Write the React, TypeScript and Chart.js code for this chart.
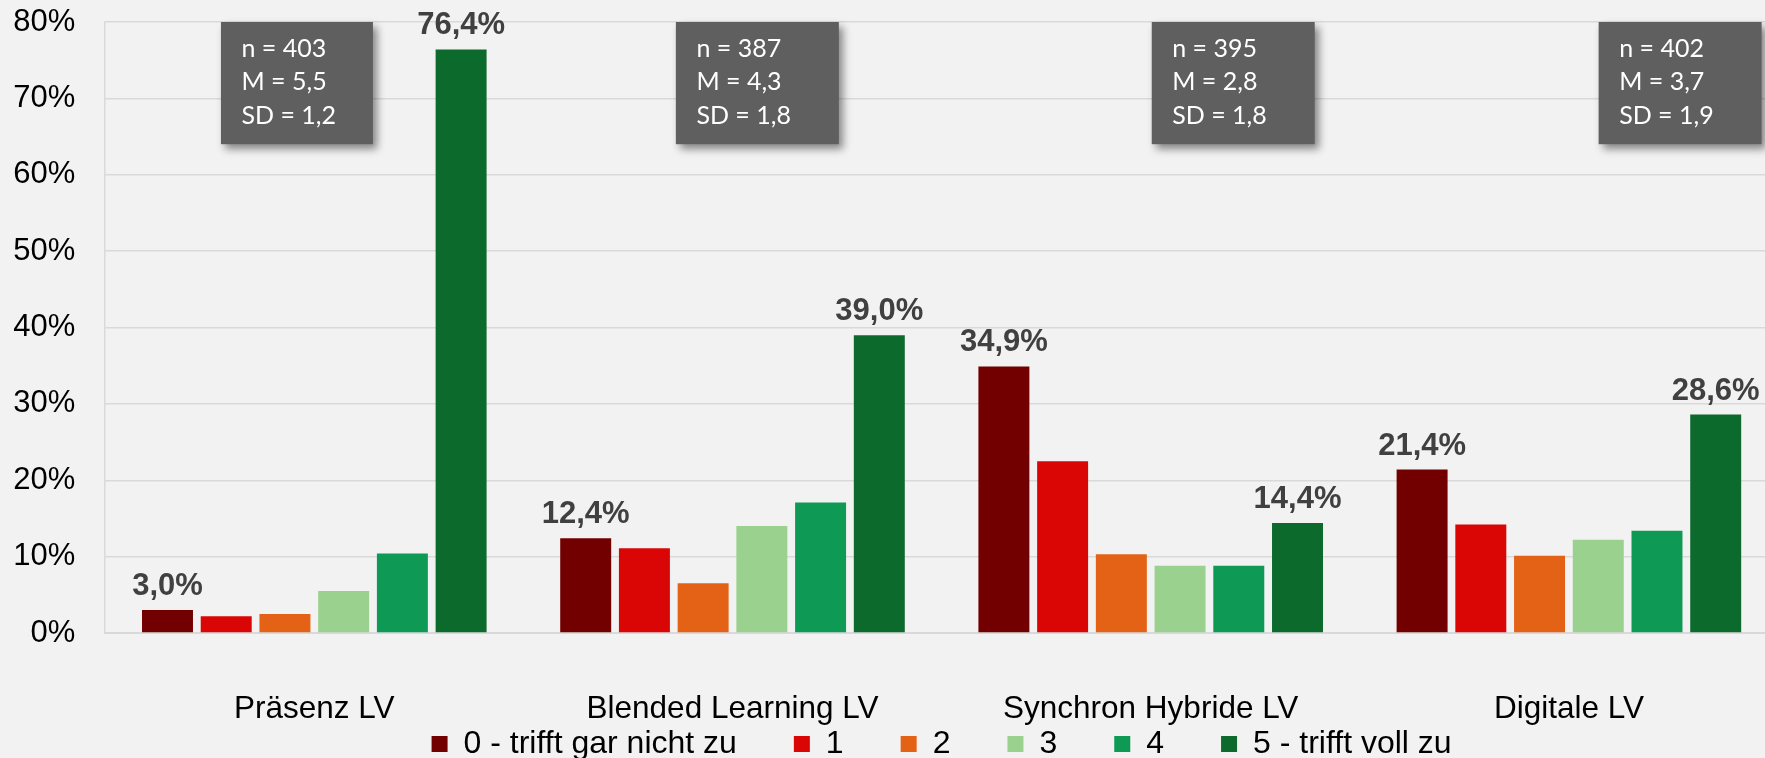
import React, { useEffect, useRef } from 'react';
import { Chart, registerables } from 'chart.js';

Chart.register(...registerables);

// ---- Data ----
const categories = ['Präsenz LV', 'Blended Learning LV', 'Synchron Hybride LV', 'Digitale LV'];
const seriesNames = ['0 - trifft gar nicht zu', '1', '2', '3', '4', '5 - trifft voll zu'];
const series0 = [3.0, 12.4, 34.9, 21.4];
const series1 = [2.2, 11.1, 22.5, 14.2];
const series2 = [2.5, 6.5, 10.3, 10.1];
const series3 = [5.5, 14.0, 8.8, 12.2];
const series4 = [10.4, 17.1, 8.8, 13.4];
const series5 = [76.4, 39.0, 14.4, 28.6];
const labeledSeries = [0, 5];
const statN = [403, 387, 395, 402];
const statM = [5.5, 4.3, 2.8, 3.7];
const statSD = [1.2, 1.8, 1.8, 1.9];
const yMin = 0;
const yMax = 80;
const yStep = 10;

// ---- Styles / layout ----
const FONT = '"Liberation Sans", Arial, sans-serif';
const seriesColors = ['#730000', '#da0606', '#e36216', '#9ad18e', '#0e9a55', '#0c6a2c'];
const boxLayout = [
  { offset: -0.2232, width: 0.3634 },
  { offset: -0.1354, width: 0.3897 },
  { offset: 0.0025, width: 0.3897 },
  { offset: 0.0711, width: 0.3897 },
];
const boxTopValue = 80;
const boxBottomValue = 64;
const legendOffsetBelowAxis = 38;

const fmt = (v: number) => v.toFixed(1).replace('.', ',');

const barLabelPlugin = {
  id: 'barLabels',
  afterDatasetsDraw(chart: any) {
    const ctx = chart.ctx;
    ctx.save();
    ctx.font = `bold 31px ${FONT}`;
    ctx.fillStyle = '#404040';
    ctx.textAlign = 'center';
    ctx.textBaseline = 'alphabetic';
    labeledSeries.forEach((dsIndex) => {
      const meta = chart.getDatasetMeta(dsIndex);
      const values = chart.data.datasets[dsIndex].data as number[];
      meta.data.forEach((bar: any, i: number) => {
        ctx.fillText(fmt(values[i]) + '%', bar.x, bar.y - 15);
      });
    });
    ctx.restore();
  },
};

const statBoxPlugin = {
  id: 'statBoxes',
  afterDatasetsDraw(chart: any) {
    const ctx = chart.ctx;
    const xs = chart.scales.x;
    const ys = chart.scales.y;
    const top = ys.getPixelForValue(boxTopValue);
    const bottom = ys.getPixelForValue(boxBottomValue);
    categories.forEach((_, i) => {
      const lay = boxLayout[i];
      const left = xs.getPixelForValue(i + lay.offset);
      const right = xs.getPixelForValue(i + lay.offset + lay.width);
      ctx.save();
      ctx.shadowColor = 'rgba(0,0,0,0.45)';
      ctx.shadowBlur = 8;
      ctx.shadowOffsetX = 4;
      ctx.shadowOffsetY = 5;
      ctx.fillStyle = '#5f5f5f';
      ctx.fillRect(left, top, right - left, bottom - top);
      ctx.restore();
      ctx.save();
      ctx.fillStyle = '#ffffff';
      ctx.font = '25px Lato, "Open Sans", sans-serif';
      ctx.textAlign = 'left';
      ctx.textBaseline = 'middle';
      const lines = [`n = ${statN[i]}`, `M = ${fmt(statM[i])}`, `SD = ${fmt(statSD[i])}`];
      lines.forEach((t, k) => {
        ctx.fillText(t, left + 20.5, top + 27 + k * 33.3);
      });
      ctx.restore();
    });
  },
};

// moves the legend up, close under the category labels
const legendShiftPlugin = {
  id: 'legendShift',
  afterLayout(chart: any) {
    const lg = chart.legend;
    if (!lg) return;
    const target = chart.chartArea.bottom + legendOffsetBelowAxis;
    const dy = lg.top - target;
    lg.top -= dy;
    lg.bottom -= dy;
  },
};

export default function App() {
  const canvasRef = useRef<HTMLCanvasElement>(null);

  useEffect(() => {
    if (!canvasRef.current) return;
    const allSeries = [series0, series1, series2, series3, series4, series5];
    const chart = new Chart(canvasRef.current, {
      type: 'bar',
      data: {
        labels: categories,
        datasets: allSeries.map((d, i) => ({
          label: seriesNames[i],
          data: d,
          backgroundColor: seriesColors[i],
          borderWidth: 0,
          categoryPercentage: 0.8425,
          barPercentage: 0.868,
        })),
      },
      options: {
        animation: false,
        responsive: true,
        maintainAspectRatio: false,
        layout: { padding: { left: 0, right: 12, top: 22, bottom: 0 } },
        plugins: {
          tooltip: { enabled: false },
          legend: {
            position: 'bottom',
            fullSize: false,
            labels: {
              boxWidth: 16,
              boxHeight: 16,
              padding: 57,
              color: '#000000',
              font: { size: 32, family: FONT },
            },
          },
        },
        scales: {
          x: {
            grid: { display: false, drawTicks: false },
            border: { display: true, color: '#d9d9d9', width: 2 },
            ticks: {
              padding: 57,
              color: '#000000',
              font: { size: 31.5, family: FONT },
              maxRotation: 0,
              autoSkip: false,
            },
            afterFit: (scale: any) => {
              scale.height = 98;
            },
          },
          y: {
            min: yMin,
            max: yMax,
            grid: { color: '#d9d9d9', lineWidth: 1.5, drawTicks: false },
            border: { display: true, color: '#d9d9d9', width: 1.5 },
            ticks: {
              stepSize: yStep,
              padding: 30,
              color: '#000000',
              font: { size: 31, family: FONT },
              callback: (v: any) => `${v}%`,
            },
            afterFit: (scale: any) => {
              scale.width = 105.2;
              scale.paddingTop = 18;
              scale.paddingBottom = 18;
            },
          },
        },
      },
      plugins: [barLabelPlugin, statBoxPlugin, legendShiftPlugin],
    });
    return () => chart.destroy();
  }, []);

  return (
    <div
      style={{
        position: 'fixed',
        left: 0,
        top: 0,
        width: '1765px',
        height: '758px',
        overflow: 'hidden',
        background: '#f2f2f2',
      }}
    >
      <div style={{ position: 'relative', width: '1790px', height: '830px' }}>
        <canvas ref={canvasRef} />
      </div>
    </div>
  );
}
